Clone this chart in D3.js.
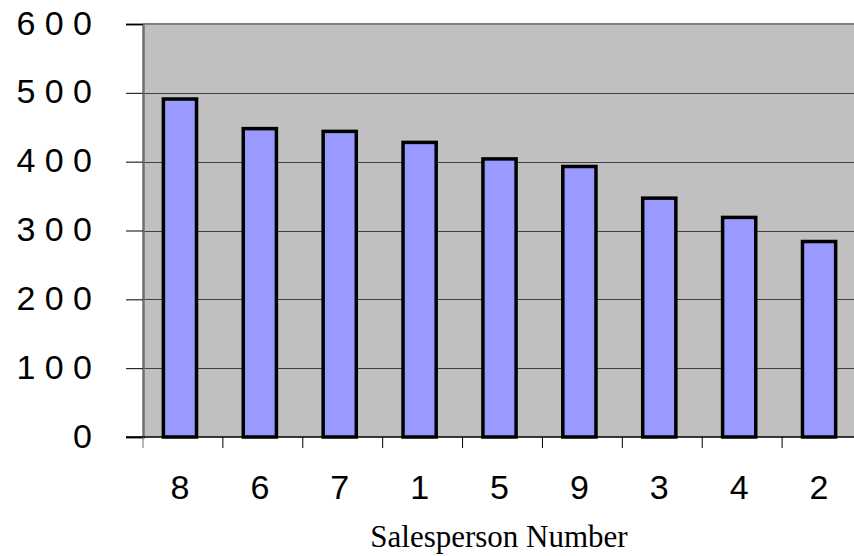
<!DOCTYPE html>
<html>
<head>
<meta charset="utf-8">
<script src="https://cdn.jsdelivr.net/npm/d3@7"></script>
<style>
  html, body { margin: 0; padding: 0; background: #fff; }
  svg { display: block; }
</style>
</head>
<body>
<svg id="chart" width="854" height="556"></svg>
<script>
// Sales by salesperson, sorted from highest to lowest
const salespeople = ["8", "6", "7", "1", "5", "9", "3", "4", "2"];
const sales = [491, 448, 444, 428, 404, 393, 347, 319, 284];
const yTicks = [0, 100, 200, 300, 400, 500, 600];
const xTitle = "Salesperson Number";

const svg = d3.select("#chart");

const plot = { left: 143, right: 862, top: 24, bottom: 437 };

const x = d3.scaleBand()
  .domain(salespeople)
  .range([plot.left, plot.right])
  .padding(0);

const y = d3.scaleLinear()
  .domain([0, 600])
  .range([plot.bottom, plot.top]);

const barOffset = x.bandwidth() * 0.255;
const barWidth = x.bandwidth() * 0.415;

// plot background
svg.append("rect")
  .attr("x", plot.left)
  .attr("y", plot.top)
  .attr("width", plot.right - plot.left)
  .attr("height", plot.bottom - plot.top)
  .attr("fill", "#c0c0c0");

// horizontal gridlines
svg.append("g")
  .selectAll("line")
  .data(yTicks.filter(t => t > 0 && t < 600))
  .join("line")
  .attr("x1", plot.left)
  .attr("x2", plot.right)
  .attr("y1", d => Math.round(y(d)) + 0.5)
  .attr("y2", d => Math.round(y(d)) + 0.5)
  .attr("stroke", "#404040")
  .attr("stroke-width", 1);

// top border of the plot area
svg.append("line")
  .attr("x1", plot.left)
  .attr("x2", plot.right)
  .attr("y1", y(600))
  .attr("y2", y(600))
  .attr("stroke", "#808080")
  .attr("stroke-width", 2);

// bars
svg.append("g")
  .selectAll("rect")
  .data(salespeople.map((s, i) => ({ s, v: sales[i] })))
  .join("rect")
  .attr("x", d => x(d.s) + barOffset)
  .attr("y", d => y(d.v))
  .attr("width", barWidth)
  .attr("height", d => y(0) - y(d.v))
  .attr("fill", "#9999ff")
  .attr("stroke", "#000")
  .attr("stroke-width", 3.5);

// y axis
const yAxis = d3.axisLeft(y)
  .tickValues(yTicks)
  .tickSize(17)
  .tickPadding(0)
  .tickFormat(d => String(d).split("").join(" "));

const gy = svg.append("g")
  .attr("transform", `translate(${plot.left},0)`)
  .call(yAxis);
gy.select(".domain").attr("stroke", "#707070").attr("stroke-width", 2.5);
gy.selectAll(".tick line").attr("stroke", "#000").attr("stroke-width", 1);
gy.selectAll(".tick text")
  .attr("x", -51)
  .attr("dy", null)
  .attr("y", 10)
  .attr("font-family", "'Liberation Sans', Arial, sans-serif")
  .attr("font-size", 34)
  .attr("fill", "#000")
  .attr("text-anchor", "end");

// x axis line
svg.append("line")
  .attr("x1", plot.left - 17)
  .attr("x2", plot.right)
  .attr("y1", y(0))
  .attr("y2", y(0))
  .attr("stroke", "#000")
  .attr("stroke-width", 1.5);

// x tick marks at category boundaries
svg.append("g")
  .selectAll("line")
  .data(salespeople)
  .join("line")
  .attr("x1", d => x(d))
  .attr("x2", d => x(d))
  .attr("y1", y(0))
  .attr("y2", y(0) + 11)
  .attr("stroke", (d, i) => i === 0 ? "#707070" : "#000")
  .attr("stroke-width", 1);

// x category labels, centred under the bars
svg.append("g")
  .selectAll("text")
  .data(salespeople)
  .join("text")
  .attr("x", d => x(d) + barOffset + barWidth / 2)
  .attr("y", 499)
  .attr("text-anchor", "middle")
  .attr("font-family", "'Liberation Sans', Arial, sans-serif")
  .attr("font-size", 34)
  .attr("fill", "#000")
  .text(d => d);

// x axis title
svg.append("text")
  .attr("x", 499)
  .attr("y", 547)
  .attr("text-anchor", "middle")
  .attr("font-family", "'Liberation Serif', 'Times New Roman', serif")
  .attr("font-size", 31)
  .attr("fill", "#000")
  .text(xTitle);
</script>
</body>
</html>
